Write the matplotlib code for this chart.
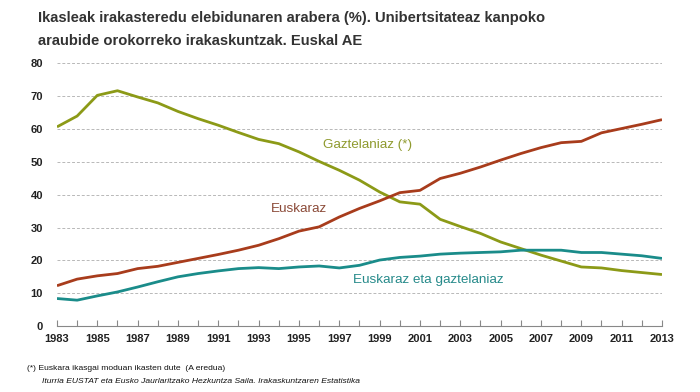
import matplotlib
matplotlib.use("Agg")
from matplotlib import pyplot as plt

plt.rcParams['font.family'] = ['Liberation Sans', 'DejaVu Sans']

# years on the x axis
years = list(range(1983, 2014))

# Gaztelaniaz (*) - A eredua
gaztelaniaz = [60.6, 63.9, 70.2, 71.6, 69.7, 67.9, 65.3, 63.1, 61.1, 58.9,
               56.8, 55.5, 53.0, 50.1, 47.4, 44.4, 40.8, 37.8, 37.1, 32.5,
               30.3, 28.2, 25.6, 23.6, 21.6, 19.8, 18.0, 17.7, 16.9, 16.3, 15.7]

# Euskaraz
euskaraz = [12.3, 14.3, 15.3, 16.0, 17.5, 18.2, 19.4, 20.6, 21.8, 23.1,
            24.6, 26.6, 28.9, 30.2, 33.2, 35.8, 38.1, 40.6, 41.3, 44.9,
            46.5, 48.4, 50.5, 52.5, 54.3, 55.8, 56.2, 58.8, 60.1, 61.4, 62.8]

# Euskaraz eta gaztelaniaz
bietan = [8.4, 7.9, 9.2, 10.4, 11.9, 13.5, 15.0, 16.0, 16.8, 17.5,
          17.8, 17.5, 18.0, 18.3, 17.7, 18.5, 20.1, 20.9, 21.3, 21.9,
          22.2, 22.4, 22.6, 23.1, 23.1, 23.1, 22.4, 22.4, 21.9, 21.4, 20.6]

yticks = [0, 10, 20, 30, 40, 50, 60, 70, 80]
xlabels = list(range(1983, 2014, 2))

fig = plt.figure(figsize=(7, 3.92), dpi=100)
ax = fig.add_axes([0.0814, 0.168, 0.8643, 0.671])

ax.plot(years, gaztelaniaz, color='#8c9a17', lw=2.0, solid_capstyle='butt')
ax.plot(years, euskaraz, color='#a83c1c', lw=2.0, solid_capstyle='butt')
ax.plot(years, bietan, color='#1a8c8a', lw=2.0, solid_capstyle='butt')

# series labels inside the plot
ax.text(1996.2, 55.2, 'Gaztelaniaz (*)', color='#8f9a2e', fontsize=9.7, va='center')
ax.text(1993.6, 35.5, 'Euskaraz', color='#8b4a38', fontsize=9.7, va='center')
ax.text(1997.7, 14.1, 'Euskaraz eta gaztelaniaz', color='#268a8a', fontsize=9.7, va='center')

ax.set_xlim(1983, 2013)
ax.set_ylim(0, 80)
ax.set_yticks(yticks)
ax.set_xticks(years, minor=False)
ax.set_xticklabels([str(y) if y in xlabels else '' for y in years])
for lab in ax.get_xticklabels() + ax.get_yticklabels():
    lab.set_fontweight('bold')
    lab.set_fontsize(8)
    lab.set_color('#222222')

for y in yticks[1:]:
    ax.axhline(y, color='#b8b8b8', lw=0.7, ls=(0, (3, 2)), zorder=0)

for s in ['top', 'right', 'left']:
    ax.spines[s].set_visible(False)
ax.spines['bottom'].set_color('#888888')
ax.spines['bottom'].set_linewidth(0.8)
ax.tick_params(axis='x', direction='in', length=4, color='#888888', pad=6)
ax.tick_params(axis='y', length=0, pad=10)

fig.text(0.054, 0.953, 'Ikasleak irakasteredu elebidunaren arabera (%). Unibertsitateaz kanpoko',
         fontsize=10.6, fontweight='bold', color='#333333', va='center')
fig.text(0.054, 0.896, 'araubide orokorreko irakaskuntzak. Euskal AE',
         fontsize=10.6, fontweight='bold', color='#333333', va='center')

fig.text(0.039, 0.061, '(*) Euskara ikasgai moduan ikasten dute  (A eredua)',
         fontsize=6.1, color='#111111', va='center')
fig.text(0.06, 0.028, 'Iturria EUSTAT eta Eusko Jaurlaritzako Hezkuntza Saila. Irakaskuntzaren Estatistika',
         fontsize=6.1, style='italic', color='#111111', va='center')

fig.savefig('out.png', dpi=100, facecolor='white')
